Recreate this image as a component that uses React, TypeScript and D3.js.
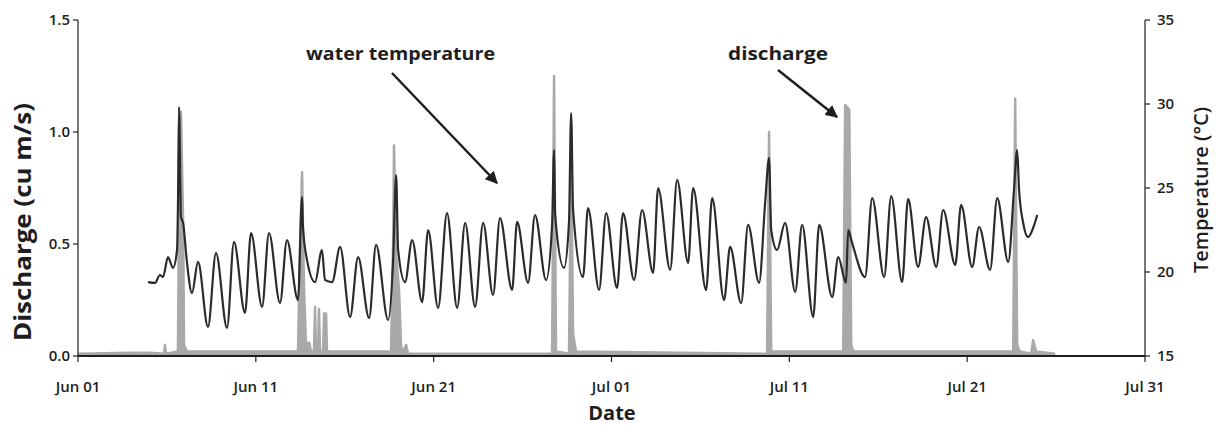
import React from "react";
import * as d3 from "d3";

// ---- data (days since Jun 01 00:00) ----
const tempDays = [
  3.94, 4.33, 4.61, 4.78, 5.06, 5.34, 5.57, 5.62, 5.68, 5.79, 5.91, 6.13, 6.41, 6.75, 7.31, 7.76,
  8.38, 8.77, 9.39, 9.73, 10.35, 10.74, 11.36, 11.75, 12.37, 12.6, 12.65, 12.88, 13.33, 13.72,
  13.89, 14.29, 14.74, 15.3, 15.75, 16.37, 16.76, 17.44, 17.72, 17.89, 18.0, 18.39, 18.79, 19.35,
  19.69, 20.25, 20.75, 21.32, 21.77, 22.33, 22.78, 23.34, 23.73, 24.41, 24.69, 25.31, 25.7, 26.32,
  26.66, 26.77, 26.83, 27.33, 27.61, 27.73, 27.84, 28.4, 28.68, 29.3, 29.7, 30.31, 30.65, 31.27,
  31.72, 32.34, 32.62, 33.3, 33.69, 34.31, 34.59, 35.32, 35.66, 36.33, 36.67, 37.29, 37.68, 38.3,
  38.64, 38.86, 38.98, 39.31, 39.76, 40.33, 40.72, 41.34, 41.68, 42.41, 42.75, 43.19, 43.31, 43.53,
  44.26, 44.66, 45.33, 45.73, 46.34, 46.68, 47.24, 47.69, 48.26, 48.65, 49.33, 49.66, 50.28, 50.67,
  51.29, 51.69, 52.31, 52.64, 52.81, 52.92, 53.15, 53.43, 53.71, 53.94,
];
const tempValues = [
  19.4, 19.35, 19.82, 19.7, 20.89, 20.24, 21.31, 23.87, 29.82, 23.27, 22.92, 20.54, 18.75, 20.6, 16.73, 21.13,
  16.67, 21.79, 17.56, 22.32, 17.92, 22.32, 18.15, 21.9, 18.33, 24.46, 22.68, 20.71, 19.4, 21.31,
  19.52, 19.4, 21.49, 17.32, 20.89, 17.26, 21.61, 17.14, 20.71, 25.77, 21.31, 19.4, 21.9, 18.21,
  22.5, 17.86, 23.51, 17.86, 22.92, 17.92, 22.92, 18.63, 23.21, 18.93, 22.98, 19.35, 23.39, 19.52,
  22.8, 27.26, 23.39, 20.24, 22.98, 29.46, 23.69, 19.7, 23.81, 18.93, 23.51, 19.05, 23.51, 19.52,
  23.69, 19.94, 25.0, 20.12, 25.48, 20.54, 25.0, 18.93, 24.4, 18.33, 21.49, 18.15, 22.8, 19.35,
  24.11, 26.79, 22.5, 21.31, 22.92, 18.81, 22.8, 17.32, 22.8, 18.51, 20.89, 19.35, 22.5, 21.73,
  19.7, 24.4, 19.7, 24.52, 19.4, 24.35, 20.3, 23.27, 20.3, 23.69, 20.42, 23.99, 20.3, 22.68,
  20.12, 24.4, 20.6, 25.0, 27.26, 24.88, 22.92, 22.08, 22.62, 23.39,
];

const dischargeDays = [
  0.0, 2.92, 4.05, 4.84, 4.89, 4.95, 5.62, 5.71, 5.79, 5.91, 5.96, 6.13,
  12.37, 12.49, 12.6, 12.71, 12.82, 13.0, 13.1, 13.27, 13.33, 13.38, 13.5, 13.55, 13.61, 13.78, 13.84, 13.95, 14.0,
  17.6, 17.72, 17.77, 17.89, 18.05, 18.17, 18.3, 18.45, 18.56,
  26.66, 26.77, 26.88, 27.61, 27.73, 27.84, 28.0,
  38.75, 38.86, 38.98, 43.03, 43.14, 43.37, 43.48, 43.6,
  52.59, 52.7, 52.81, 52.95, 53.6, 53.71, 53.88, 54.95,
];
const dischargeValues = [
  0.01, 0.015, 0.015, 0.01, 0.05, 0.01, 0.02, 1.0, 1.09, 0.6, 0.05, 0.02,
  0.02, 0.5, 0.82, 0.3, 0.05, 0.06, 0.02, 0.02, 0.22, 0.02, 0.02, 0.21, 0.02, 0.02, 0.19, 0.19, 0.02,
  0.02, 0.5, 0.94, 0.45, 0.3, 0.04, 0.02, 0.05, 0.01,
  0.01, 1.25, 0.02, 0.01, 0.89, 0.1, 0.02,
  0.01, 1.0, 0.02, 0.02, 1.12, 1.1, 0.05, 0.02,
  0.02, 1.15, 0.05, 0.02, 0.01, 0.07, 0.02, 0.01,
];

const leftTicks = [0.0, 0.5, 1.0, 1.5];
const rightTicks = [15, 20, 25, 30, 35];
const xTickDays = [0, 10, 20, 30, 40, 50, 60];

const START = new Date(2009, 5, 1);
const END = new Date(2009, 6, 31);
const toDate = (d: number) => new Date(START.getTime() + d * 86400000);

const W = 1218;
const H = 427;
const M = { left: 78, right: 1145, top: 20, bottom: 356 };
const FONT = "'Open Sans', 'Noto Sans', sans-serif";

export default function App() {
  const x = d3.scaleTime().domain([START, END]).range([M.left, M.right]);
  const yL = d3.scaleLinear().domain([0, 1.5]).range([M.bottom, M.top]);
  const yR = d3.scaleLinear().domain([15, 35]).range([M.bottom, M.top]);
  const fmt = d3.timeFormat("%b %d");

  const dis = dischargeDays.map((d, i) => ({ t: toDate(d), v: dischargeValues[i] }));
  const tmp = tempDays.map((d, i) => ({ t: toDate(d), v: tempValues[i] }));

  const area = d3
    .area<{ t: Date; v: number }>()
    .x((d) => x(d.t))
    .y0(yL(0))
    .y1((d) => yL(d.v));
  const disLine = d3
    .line<{ t: Date; v: number }>()
    .x((d) => x(d.t))
    .y((d) => yL(d.v));
  const tmpLine = d3
    .line<{ t: Date; v: number }>()
    .x((d) => x(d.t))
    .y((d) => yR(d.v))
    .curve(d3.curveMonotoneX);

  const grey = "#a9a9a9";
  const ink = "#1e1e1e";

  return (
    <svg
      width={W}
      height={H}
      style={{ position: "absolute", left: 0, top: 0, background: "#fff" }}
      fontFamily={FONT}
    >
      <defs>
        <marker id="ah" viewBox="0 0 10 10" refX="9" refY="5" markerWidth="5" markerHeight="5" orient="auto">
          <path d="M0,0 L10,5 L0,10 z" fill={ink} />
        </marker>
      </defs>

      {/* discharge */}
      <path d={area(dis) || ""} fill={grey} />
      <path d={disLine(dis) || ""} fill="none" stroke={grey} strokeWidth={2.5} strokeLinejoin="round" />

      {/* temperature */}
      <path d={tmpLine(tmp) || ""} fill="none" stroke="#2b2b2b" strokeWidth={2.2} strokeLinejoin="round" />

      {/* axes */}
      <line x1={M.left} x2={M.left} y1={M.top} y2={M.bottom} stroke={ink} strokeWidth={1.2} />
      <line x1={M.right} x2={M.right} y1={M.top} y2={M.bottom} stroke={ink} strokeWidth={1.2} />
      <line x1={M.left} x2={M.right} y1={M.bottom} y2={M.bottom} stroke={ink} strokeWidth={1.8} />

      {leftTicks.map((t) => (
        <g key={"l" + t}>
          <line x1={M.left - 5} x2={M.left} y1={yL(t)} y2={yL(t)} stroke={ink} strokeWidth={1.2} />
          <text x={M.left - 8} y={yL(t)} dy="0.35em" textAnchor="end" fontSize={15} fontWeight={600} fill={ink}>
            {t.toFixed(1)}
          </text>
        </g>
      ))}
      {rightTicks.map((t) => (
        <g key={"r" + t}>
          <line x1={M.right} x2={M.right + 5} y1={yR(t)} y2={yR(t)} stroke={ink} strokeWidth={1.2} />
          <text x={M.right + 12} y={yR(t)} dy="0.35em" textAnchor="start" fontSize={15} fontWeight={600} fill={ink}>
            {t}
          </text>
        </g>
      ))}
      {xTickDays.map((d) => (
        <g key={"x" + d}>
          <line x1={x(toDate(d))} x2={x(toDate(d))} y1={M.bottom} y2={M.bottom + 6} stroke={ink} strokeWidth={1.2} />
          <text x={x(toDate(d))} y={M.bottom + 36} textAnchor="middle" fontSize={15} fontWeight={600} fill={ink}>
            {fmt(toDate(d))}
          </text>
        </g>
      ))}

      {/* axis titles */}
      <text x={612} y={420} textAnchor="middle" fontSize={20} fontWeight={700} fill={ink}>
        Date
      </text>
      <text
        transform={`translate(31,${222}) rotate(-90)`}
        textAnchor="middle"
        fontSize={24}
        fontWeight={700}
        fill={ink}
        textLength={238}
        lengthAdjust="spacingAndGlyphs"
      >
        Discharge (cu m/s)
      </text>
      <text
        transform={`translate(1208,${190}) rotate(-90)`}
        textAnchor="middle"
        fontSize={20}
        fontWeight={600}
        fill={ink}
      >
        Temperature (°C)
      </text>

      {/* annotations */}
      <text x={306} y={60} fontSize={18} fontWeight={700} fill={ink} textLength={189} lengthAdjust="spacingAndGlyphs">
        water temperature
      </text>
      <line x1={392} y1={73} x2={497} y2={183} stroke={ink} strokeWidth={2.5} markerEnd="url(#ah)" />
      <text x={728} y={60} fontSize={18} fontWeight={700} fill={ink} textLength={100} lengthAdjust="spacingAndGlyphs">
        discharge
      </text>
      <line x1={778} y1={70} x2={837} y2={117} stroke={ink} strokeWidth={2.5} markerEnd="url(#ah)" />
    </svg>
  );
}
